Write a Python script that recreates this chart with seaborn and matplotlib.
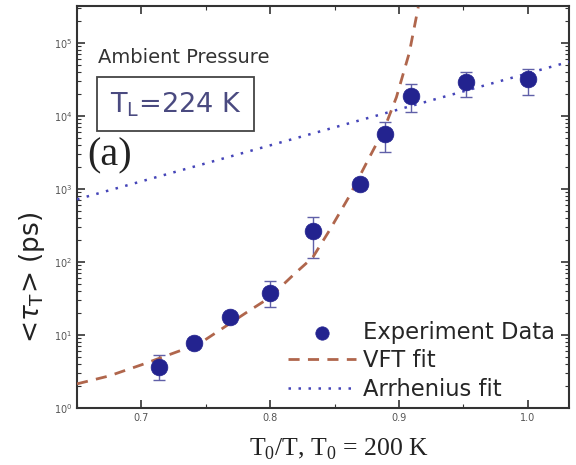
import numpy as np
import pandas as pd
import matplotlib
matplotlib.use("Agg")
import matplotlib.pyplot as plt
import seaborn as sns
from matplotlib.ticker import LogLocator, MultipleLocator, NullFormatter, LogFormatterMathtext

# ---- data ----
x_data = [0.714, 0.741, 0.769, 0.800, 0.833, 0.870, 0.889, 0.909, 0.952, 1.000]
tau_data = [3.7, 7.8, 17.8, 38, 262, 1180, 5600, 18600, 29000, 32000]
err_low = [2.4, 7.8, 17.8, 24, 115, 1180, 3170, 11200, 18100, 19300]
err_high = [5.3, 7.8, 17.8, 54, 407, 1180, 8200, 27500, 40000, 44000]

vft_x = [0.650, 0.675, 0.700, 0.745, 0.781, 0.799, 0.819, 0.833, 0.846, 0.861, 0.877, 0.888, 0.898, 0.908, 0.915]
vft_y = [2.14, 2.75, 3.9, 7.6, 20, 32, 69, 115, 270, 770, 2700, 6300, 18000, 73000, 310000]

arr_x = [0.650, 1.032]
arr_y = [720, 55000]

x_ticks = [0.7, 0.8, 0.9, 1.0]
x_ticklabels = ["0.7", "0.8", "0.9", "1.0"]

sns.set_style("ticks")
plt.rcParams['font.family'] = ['DejaVu Sans']

fig = plt.figure(figsize=(5.76, 4.65), dpi=100)
ax = fig.add_axes([0.1337, 0.1226, 0.8541, 0.8645])

navy = "#23238f"
vft_c = "#b0664c"
arr_c = "#4545b8"

df_pts = pd.DataFrame({"x": x_data, "tau": tau_data})
df_vft = pd.DataFrame({"x": vft_x, "tau": vft_y})
df_arr = pd.DataFrame({"x": arr_x, "tau": arr_y})

yerr = np.array([np.array(tau_data) - np.array(err_low), np.array(err_high) - np.array(tau_data)])
ax.errorbar(x_data, tau_data, yerr=yerr, fmt="none", ecolor="#6060a8", elinewidth=1.0, capsize=4, capthick=1.0, zorder=2)

sns.lineplot(data=df_vft, x="x", y="tau", ax=ax, color=vft_c, linestyle=(0, (4, 3)), linewidth=2.0, label="VFT fit", zorder=3)
sns.lineplot(data=df_arr, x="x", y="tau", ax=ax, color=arr_c, linestyle=(0, (1, 3)), linewidth=1.8, label="Arrhenius fit", zorder=3)
sns.scatterplot(data=df_pts, x="x", y="tau", ax=ax, color=navy, s=145, edgecolor=navy, linewidth=0.5, label="Experiment Data", zorder=4)

ax.set_yscale("log")
ax.set_xlim(0.65, 1.032)
ax.set_ylim(1, 3.2e5)

ax.set_xticks(x_ticks)
ax.set_xticklabels(x_ticklabels)
ax.xaxis.set_minor_locator(MultipleLocator(0.05))
ax.yaxis.set_major_locator(LogLocator(base=10, numticks=10))
ax.yaxis.set_minor_locator(LogLocator(base=10, subs=np.arange(2, 10), numticks=20))
ax.yaxis.set_major_formatter(LogFormatterMathtext())
ax.yaxis.set_minor_formatter(NullFormatter())

ax.tick_params(which="both", direction="in", top=True, right=True, colors="#333333", labelcolor="#555555", labelsize=7)
ax.tick_params(which="major", length=6, width=1.2)
ax.tick_params(which="minor", length=3, width=0.8)
for s in ax.spines.values():
    s.set_linewidth(1.5)
    s.set_color("#333333")

ax.set_xlabel("T$_\\mathregular{0}$/T, T$_\\mathregular{0}$ = 200 K", family="Liberation Serif", fontsize=18.5, color="#222222")
ax.xaxis.set_label_coords(0.533, -0.072)
ax.set_ylabel("<$\\tau_\\mathregular{T}$> (ps)", fontsize=19, color="#222222")
ax.yaxis.set_label_coords(-0.06, 0.326)

ax.text(0.043, 0.858, "Ambient Pressure", transform=ax.transAxes, fontsize=14, color="#333333", va="baseline")
ax.text(0.067, 0.736, "T$_\\mathregular{L}$=224 K", transform=ax.transAxes, fontsize=19.5, color="#4a4a80", va="baseline",
        bbox=dict(boxstyle="square,pad=0.47", facecolor="white", edgecolor="#444444", linewidth=1.3))
ax.text(0.020, 0.604, "(a)", transform=ax.transAxes, family="Liberation Serif", fontsize=29, color="#222222", va="baseline")

h, l = ax.get_legend_handles_labels()
order = [l.index("Experiment Data"), l.index("VFT fit"), l.index("Arrhenius fit")]
ax.legend([h[i] for i in order], [l[i] for i in order], loc="lower right", bbox_to_anchor=(0.99, -0.005),
          frameon=False, fontsize=16.3,
          handlelength=3.0, handletextpad=0.3, labelspacing=0.25, borderaxespad=0.1, borderpad=0.3, markerscale=0.8)

fig.savefig("out.png", dpi=100)
